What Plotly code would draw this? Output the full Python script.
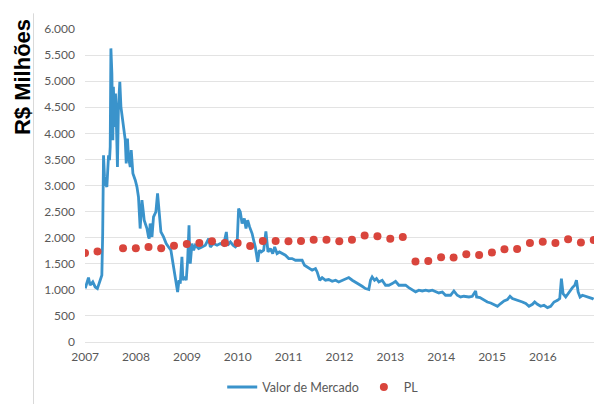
import plotly.graph_objects as go

# Valor de Mercado (R$ milhões)
vm_dates = [
    "2007-01-02", "2007-01-25", "2007-02-06", "2007-02-25", "2007-03-14", "2007-03-30",
    "2007-04-19", "2007-05-01", "2007-05-07", "2007-05-09", "2007-05-13", "2007-05-20",
    "2007-05-27", "2007-06-06", "2007-06-18", "2007-06-25", "2007-06-30", "2007-07-05",
    "2007-07-12", "2007-07-19", "2007-07-23", "2007-07-31", "2007-08-07", "2007-08-14",
    "2007-08-21", "2007-08-28", "2007-09-07", "2007-09-15", "2007-09-29", "2007-10-16",
    "2007-10-23", "2007-11-01", "2007-11-08", "2007-11-21", "2007-11-28", "2007-12-10",
    "2007-12-27", "2008-01-08", "2008-01-19", "2008-01-26", "2008-01-31", "2008-02-13",
    "2008-02-20", "2008-02-24", "2008-02-29", "2008-03-07", "2008-03-20", "2008-03-31",
    "2008-04-05", "2008-04-12", "2008-04-25", "2008-05-06", "2008-05-23", "2008-06-04",
    "2008-06-14", "2008-06-28", "2008-07-17", "2008-08-05", "2008-08-22", "2008-09-08",
    "2008-09-23", "2008-10-04", "2008-10-14", "2008-10-26", "2008-11-05", "2008-11-14",
    "2008-11-26", "2008-12-03", "2008-12-15", "2008-12-27", "2009-01-06", "2009-01-16",
    "2009-01-20", "2009-01-25", "2009-02-06", "2009-02-18", "2009-03-02", "2009-03-14",
    "2009-03-26", "2009-04-19", "2009-05-13", "2009-06-06", "2009-06-18", "2009-07-11",
    "2009-08-05", "2009-08-29", "2009-09-21", "2009-10-11", "2009-10-20", "2009-11-09",
    "2009-11-28", "2009-12-15", "2009-12-27", "2010-01-07", "2010-01-19", "2010-02-01",
    "2010-02-17", "2010-03-01", "2010-03-13", "2010-03-27", "2010-04-14", "2010-04-25",
    "2010-05-07", "2010-05-24", "2010-06-05", "2010-06-19", "2010-07-06", "2010-07-22",
    "2010-08-06", "2010-08-23", "2010-09-09", "2010-09-23", "2010-10-10", "2010-10-27",
    "2010-11-15", "2010-12-09", "2011-01-02", "2011-01-26", "2011-02-19", "2011-03-15",
    "2011-04-08", "2011-04-25", "2011-05-26", "2011-06-19", "2011-07-13", "2011-07-25",
    "2011-08-13", "2011-08-30", "2011-09-23", "2011-10-16", "2011-11-10", "2011-12-04",
    "2011-12-27", "2012-01-21", "2012-02-13", "2012-03-08", "2012-04-02", "2012-04-25",
    "2012-05-19", "2012-06-12", "2012-07-06", "2012-07-30", "2012-08-11", "2012-08-23",
    "2012-09-09", "2012-09-23", "2012-10-10", "2012-11-03", "2012-11-27", "2012-12-21",
    "2013-01-14", "2013-02-07", "2013-03-03", "2013-03-27", "2013-04-20", "2013-05-13",
    "2013-06-07", "2013-07-01", "2013-07-24", "2013-08-18", "2013-09-11", "2013-10-04",
    "2013-10-29", "2013-11-22", "2013-12-15", "2014-01-09", "2014-02-01", "2014-02-25",
    "2014-03-09", "2014-04-02", "2014-04-26", "2014-05-20", "2014-06-13", "2014-07-19",
    "2014-08-12", "2014-09-05", "2014-09-12", "2014-10-06", "2014-11-04", "2014-11-28",
    "2014-12-22", "2015-01-15", "2015-02-09", "2015-03-04", "2015-03-28", "2015-04-21",
    "2015-05-10", "2015-05-27", "2015-06-20", "2015-07-13", "2015-08-07", "2015-08-31",
    "2015-09-23", "2015-10-18", "2015-11-03", "2015-11-23", "2015-12-16", "2016-01-09",
    "2016-02-03", "2016-02-26", "2016-03-21", "2016-04-15", "2016-05-01", "2016-05-13",
    "2016-05-25", "2016-06-13", "2016-07-07", "2016-07-31", "2016-08-17", "2016-08-29",
    "2016-09-10", "2016-09-24", "2016-10-11", "2016-11-04", "2016-11-28", "2016-12-22",
    "2016-12-30",
]
vm_values = [
    1030, 1235, 1088, 1151, 1055, 1024,
    1183, 1279, 2080, 2400, 3580, 3165,
    3038, 2974, 3580, 3485, 3740, 5628,
    5149, 3869, 4892, 4124, 4765, 4124,
    3357, 4508, 4988, 4508, 4253, 3869,
    3422, 3902, 3549, 3357, 3677, 3230,
    3102, 2974, 2781, 2334, 2175, 2718,
    2600, 2463, 2334, 2271, 2175, 2014,
    1983, 2271, 2014, 2398, 2494, 2847,
    2463, 2110, 2014, 1888, 1822, 1759,
    1504, 1312, 1184, 959, 1184, 1120,
    1631, 1184, 1247, 1184, 1567, 2239,
    1696, 1504, 1888, 1759, 1855, 1822,
    1792, 1822, 1855, 1983, 1822, 1888,
    1855, 1888, 1855, 2110, 1855, 1918,
    1855, 1822, 1855, 2559, 2494, 2271,
    2367, 2175, 2334, 2206, 2079, 1951,
    1822, 1535, 1759, 1726, 1759, 2120,
    1726, 1792, 1696, 1822, 1696, 1726,
    1696, 1663, 1600, 1600, 1567, 1567,
    1567, 1471, 1408, 1376, 1408, 1343,
    1184, 1235, 1184, 1197, 1164, 1184,
    1151, 1184, 1216, 1235, 1184, 1151,
    1107, 1068, 1024, 1005, 1184, 1247,
    1184, 1216, 1151, 1184, 1088, 1088,
    1120, 1164, 1088, 1088, 1088, 1043,
    992, 959, 992, 978, 992, 978,
    992, 959, 940, 959, 896, 896,
    896, 978, 896, 863, 877, 863,
    877, 978, 863, 852, 800, 767,
    748, 723, 685, 737, 786, 813,
    877, 833, 813, 800, 767, 737,
    685, 723, 767, 723, 685, 704,
    660, 685, 767, 800, 833, 1216,
    928, 863, 959, 1043, 1088, 1184,
    959, 863, 896, 877, 863, 833,
    820,
]

# PL (patrimônio líquido), quarterly (Jun/2007 missing)
pl_dates = [
    "2006-12-31", "2007-03-31", "2007-09-30", "2007-12-31",
    "2008-03-31", "2008-06-30", "2008-09-30", "2008-12-31",
    "2009-03-31", "2009-06-30", "2009-09-30", "2009-12-31",
    "2010-03-31", "2010-06-30", "2010-09-30", "2010-12-31",
    "2011-03-31", "2011-06-30", "2011-09-30", "2011-12-31",
    "2012-03-31", "2012-06-30", "2012-09-30", "2012-12-31",
    "2013-03-31", "2013-06-30", "2013-09-30", "2013-12-31",
    "2014-03-31", "2014-06-30", "2014-09-30", "2014-12-31",
    "2015-03-31", "2015-06-30", "2015-09-30", "2015-12-31",
    "2016-03-31", "2016-06-30", "2016-09-30", "2016-12-31",
]
pl_values = [
    1705, 1735, 1795, 1797,
    1820, 1797, 1845, 1880,
    1897, 1930, 1897, 1897,
    1840, 1937, 1937, 1930,
    1937, 1962, 1962, 1930,
    1962, 2040, 2025, 1980,
    2012, 1542, 1553, 1625,
    1618, 1682, 1668, 1715,
    1777, 1783, 1897, 1923,
    1897, 1968, 1905, 1955,
]

year_ticks = [f"{y}-01-01" for y in range(2007, 2017)]
year_labels = [str(y) for y in range(2007, 2017)]

fig = go.Figure()
fig.add_trace(go.Scatter(
    x=vm_dates, y=vm_values, mode="lines", name="Valor de Mercado",
    line=dict(color="#3A93CB", width=2.8),
))
fig.add_trace(go.Scatter(
    x=pl_dates, y=pl_values, mode="markers", name="PL",
    marker=dict(color="#D9453C", size=8),
))

font_family = "Lato, 'Liberation Sans', sans-serif"
fig.update_layout(
    template="none",
    width=605, height=404,
    # page body adds an 8px offset; margins compensate for it
    margin=dict(l=77, r=19, t=21, b=70, autoexpand=False),
    paper_bgcolor="white", plot_bgcolor="white",
    separators=",.",
    font=dict(family=font_family, size=12, color="#595959"),
    showlegend=True,
    legend=dict(orientation="h", x=0.468, xanchor="center", y=-0.145, yanchor="middle",
                font=dict(size=12.5, color="#595959"), itemwidth=30,
                bgcolor="rgba(0,0,0,0)"),
    xaxis=dict(
        type="date", range=["2006-12-31", "2017-01-02"],
        tickvals=year_ticks, ticktext=year_labels, automargin=False,
        showgrid=False, zeroline=False, showline=False, ticks="",
        ticklabelstandoff=6, tickfont=dict(size=12, color="#595959"),
    ),
    yaxis=dict(
        range=[0, 6000], dtick=500, tick0=0, tickformat=",d", automargin=False,
        showgrid=True, gridcolor="#E3E3E3", gridwidth=1,
        zeroline=True, zerolinecolor="#E3E3E3", zerolinewidth=1,
        showline=False, ticks="", ticklabelstandoff=9,
        tickfont=dict(size=12, color="#595959"),
    ),
)
fig.add_annotation(
    text="<b>R$ Milhões</b>", textangle=-90,
    xref="paper", yref="paper", x=-0.124, y=0.846,
    xanchor="center", yanchor="middle", showarrow=False,
    font=dict(family="'Liberation Sans', Arial, sans-serif", size=22, color="#000000"),
)
fig.add_shape(type="line", xref="paper", yref="paper",
              x0=-0.1012, x1=-0.1012, y0=-0.2, y1=1.05,
              line=dict(color="#D9D9D9", width=1))

fig.write_html("out.html")
